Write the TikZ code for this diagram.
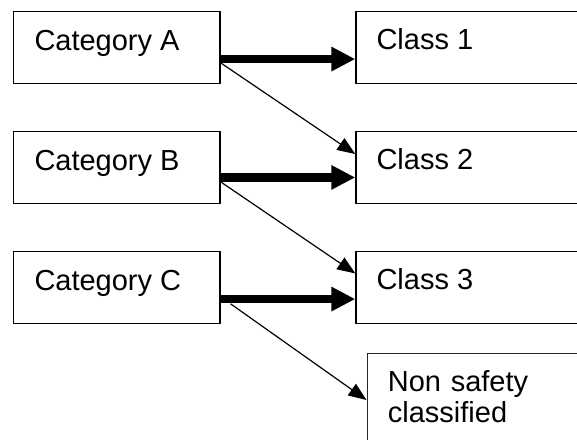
\documentclass[tikz,border=0pt]{standalone}
\usepackage{fontspec}
\setmainfont{Liberation Sans}
\usetikzlibrary{arrows.meta}
\begin{document}
\begin{tikzpicture}[x=1pt,y=1pt,
  box/.style={draw=black, line width=1.5pt, rectangle, inner sep=0pt, anchor=north west, minimum height=72pt},
  catbox/.style={box, minimum width=206.3pt},
  clsbox/.style={box, minimum width=240pt},
  nsbox/.style={draw=black!85, line width=1.2pt, rectangle, inner sep=0pt, anchor=north west, minimum width=230pt, minimum height=100pt},
  txt/.style={inner sep=0pt, anchor=base west, font=\fontsize{29}{31}\selectfont},
  thickarrow/.style={line width=8.6pt, -{Triangle[length=24pt,width=23pt]}},
  thinarrow/.style={line width=1.2pt, -{Triangle[length=18pt,width=14pt]}}
]
\useasboundingbox (0,0) rectangle (577,-439);
\clip (0,0) rectangle (577,-439);
% category boxes
\node[catbox] (A) at (12.7,-10.7) {};
\node[catbox] (B) at (12.7,-130.7) {};
\node[catbox] (C) at (12.7,-250.7) {};
% class boxes
\node[clsbox] (K1) at (355.3,-10.7) {};
\node[clsbox] (K2) at (355.3,-130.7) {};
\node[clsbox] (K3) at (355.3,-250.7) {};
\node[nsbox] (NS) at (366.5,-352.5) {};
% texts
\node[txt] (tA) at ([shift={(21.6,-39.3)}]A.north west) {Category A};
\node[txt] (tB) at ([shift={(21.6,-39.3)}]B.north west) {Category B};
\node[txt] (tC) at ([shift={(21.6,-39.3)}]C.north west) {Category C};
\node[txt] (t1) at ([shift={(21,-38.8)}]K1.north west) {Class 1};
\node[txt] (t2) at ([shift={(21,-38.8)}]K2.north west) {Class 2};
\node[txt] (t3) at ([shift={(21,-38.8)}]K3.north west) {Class 3};
\node[txt, text width=200pt, align=left] (tNS) at ([shift={(21.2,-39.2)}]NS.north west) {Non safety\\classified};
% thin arrows
\draw[thinarrow] ([yshift=-15.3pt]A.east) -- ([yshift=13.4pt]K2.west);
\draw[thinarrow] ([yshift=-14.3pt]B.east) -- ([yshift=14pt]K3.west);
\draw[thinarrow] ([shift={(10pt,-16.3pt)}]C.east) -- ([yshift=-47.5pt]NS.north west);
% thick arrows
\draw[thickarrow] ([yshift=-11.6pt]A.east) -- ([yshift=-11.6pt]K1.west);
\draw[thickarrow] ([yshift=-10pt]B.east) -- ([yshift=-10pt]K2.west);
\draw[thickarrow] ([yshift=-11.6pt]C.east) -- ([yshift=-11.6pt]K3.west);
\end{tikzpicture}
\end{document}
